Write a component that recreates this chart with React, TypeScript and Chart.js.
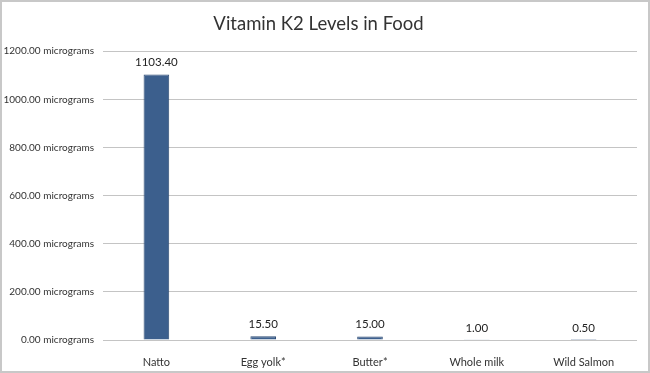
import React, { useEffect, useRef } from "react";
import { Chart, registerables } from "chart.js";

Chart.register(...registerables);

const categories = ["Natto", "Egg yolk*", "Butter*", "Whole milk", "Wild Salmon"];
const values = [1103.4, 15.5, 15.0, 1.0, 0.5];
const valueLabels = ["1103.40", "15.50", "15.00", "1.00", "0.50"];
const yTicks = [0, 200, 400, 600, 800, 1000, 1200];

const FONT = "Lato, 'Open Sans', sans-serif";

export default function App() {
  const ref = useRef<HTMLCanvasElement | null>(null);
  useEffect(() => {
    if (!ref.current) return;
    const frame = {
      id: "frame",
      beforeDraw(chart: any) {
        const ctx = chart.ctx;
        ctx.save();
        ctx.fillStyle = "#ffffff";
        ctx.fillRect(0, 0, chart.width, chart.height);
        ctx.strokeStyle = "#c8c8c8";
        ctx.lineWidth = 2;
        ctx.strokeRect(1, 1, chart.width - 2, chart.height - 2);
        ctx.restore();
      },
    };
    const labels = {
      id: "valueLabels",
      afterDatasetsDraw(chart: any) {
        const ctx = chart.ctx;
        const meta = chart.getDatasetMeta(0);
        ctx.save();
        ctx.font = `11.5px ${FONT}`;
        ctx.fillStyle = "#222222";
        ctx.textAlign = "center";
        ctx.textBaseline = "bottom";
        meta.data.forEach((el: any, i: number) => {
          ctx.fillText(valueLabels[i], el.x, el.y - 6);
        });
        ctx.restore();
      },
    };
    const chart = new Chart(ref.current, {
      type: "bar",
      data: {
        labels: categories,
        datasets: [
          {
            data: values,
            backgroundColor: "#3c5f8d",
            borderColor: "#2f4d75",
            borderWidth: 1,
            barPercentage: 0.6,
            categoryPercentage: 0.4,
          },
        ],
      },
      options: {
        animation: false,
        responsive: false,
        layout: { padding: { left: 0, right: 13, top: 0, bottom: 0 } },
        plugins: {
          legend: { display: false },
          tooltip: { enabled: false },
          title: {
            display: true,
            text: "Vitamin K2 Levels in Food",
            color: "#333333",
            font: { family: FONT, size: 18.5, weight: "normal" },
            padding: { top: 13, bottom: 16 },
          },
        },
        scales: {
          x: {
            grid: { display: false },
            border: { display: false },
            ticks: {
              color: "#333333",
              font: { family: FONT, size: 11 },
              padding: 8,
              maxRotation: 0,
            },
            afterFit(scale: any) {
              scale.height = 33;
            },
          },
          y: {
            min: 0,
            max: 1200,
            afterBuildTicks(scale: any) {
              scale.ticks = yTicks.map((v) => ({ value: v }));
            },
            grid: { color: "#c4c4c4", drawTicks: false, lineWidth: 1 },
            border: { display: false },
            ticks: {
              color: "#333333",
              font: { family: FONT, size: 10 },
              padding: 9,
              callback: (v: any) => `${Number(v).toFixed(2)} micrograms`,
            },
            afterFit(scale: any) {
              scale.width = 103;
            },
          },
        },
      },
      plugins: [frame, labels],
    } as any);
    return () => chart.destroy();
  }, []);
  return (
    <div style={{ position: "fixed", left: 0, top: 0, width: 650, height: 373 }}>
      <canvas ref={ref} width={650} height={373} style={{ display: "block" }} />
    </div>
  );
}
